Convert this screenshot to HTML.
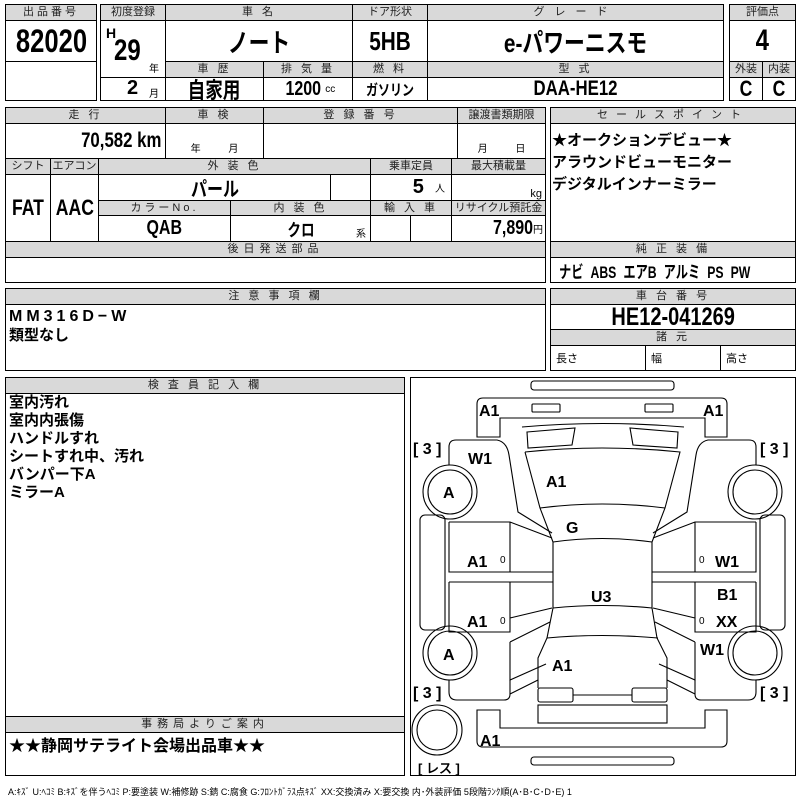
<!DOCTYPE html>
<html><head><meta charset="utf-8"><style>
*{margin:0;padding:0;box-sizing:border-box}
body{width:800px;height:800px;background:#fff;position:relative;overflow:hidden;font-family:"Liberation Sans","Noto Sans CJK JP",sans-serif;color:#000}
.c{position:absolute;border:1px solid #000;display:flex;align-items:center;justify-content:center;white-space:nowrap;overflow:hidden}
.h{background:#d9d9d9;font-size:11px;letter-spacing:3px;color:#222;line-height:1}
.v{font-weight:bold;font-size:20px}
.n{display:inline-block;transform:scaleX(.8);white-space:nowrap}
.nr{transform-origin:right center}
.nl{transform-origin:left center}
.t{position:absolute;font-weight:bold;font-size:15px;line-height:18px;white-space:nowrap}
.s{font-size:10px;font-weight:normal}
svg{position:absolute;left:0;top:0}
</style></head><body>
<!-- block 1 -->
<div class="c h" style="left:5px;top:4px;width:92px;height:17px">出品番号</div>
<div class="c v" style="left:5px;top:20px;width:92px;height:42px;font-size:32px"><span class="n">82020</span></div>
<div class="c" style="left:5px;top:61px;width:92px;height:40px"></div>
<!-- block 2 -->
<div class="c h" style="left:100px;top:4px;width:66px;height:17px;letter-spacing:0">初度登録</div>
<div class="c h" style="left:165px;top:4px;width:188px;height:17px">車 名</div>
<div class="c h" style="left:352px;top:4px;width:76px;height:17px;letter-spacing:0">ドア形状</div>
<div class="c h" style="left:427px;top:4px;width:297px;height:17px;letter-spacing:10px">グレード</div>
<div class="c" style="left:100px;top:20px;width:66px;height:58px"></div>
<div class="t" style="left:106px;top:24px;font-size:14px">H</div>
<div class="t v" style="left:114px;top:36px;font-size:30px;line-height:30px"><span class="n nl">29</span></div>
<div class="t s" style="left:149px;top:61px">年</div>
<div class="c" style="left:100px;top:77px;width:66px;height:24px"></div>
<div class="t v" style="left:127px;top:79px;font-size:20px">2</div>
<div class="t s" style="left:149px;top:86px">月</div>
<div class="c v" style="left:165px;top:20px;width:188px;height:42px;font-size:26px"><span class="n">ノート</span></div>
<div class="c v" style="left:352px;top:20px;width:76px;height:42px;font-size:26px"><span class="n">5HB</span></div>
<div class="c v" style="left:427px;top:20px;width:297px;height:42px;font-size:26px"><span class="n">e-パワーニスモ</span></div>
<div class="c h" style="left:165px;top:61px;width:99px;height:17px">車 歴</div>
<div class="c h" style="left:263px;top:61px;width:90px;height:17px">排 気 量</div>
<div class="c h" style="left:352px;top:61px;width:76px;height:17px">燃 料</div>
<div class="c h" style="left:427px;top:61px;width:297px;height:17px">型 式</div>
<div class="c v" style="left:165px;top:77px;width:99px;height:24px;font-size:22px"><span class="n">自家用</span></div>
<div class="c v" style="left:263px;top:77px;width:90px;height:24px"><span class="n">1200</span><span class="s">cc</span></div>
<div class="c v" style="left:352px;top:77px;width:76px;height:24px;font-size:15px"><span class="n">ガソリン</span></div>
<div class="c v" style="left:427px;top:77px;width:297px;height:24px;font-size:21px"><span class="n">DAA-HE12</span></div>
<!-- block 3 -->
<div class="c h" style="left:729px;top:4px;width:67px;height:17px;letter-spacing:0">評価点</div>
<div class="c v" style="left:729px;top:20px;width:67px;height:42px;font-size:30px"><span class="n">4</span></div>
<div class="c h" style="left:729px;top:61px;width:34px;height:17px;letter-spacing:0">外装</div>
<div class="c h" style="left:762px;top:61px;width:34px;height:17px;letter-spacing:0">内装</div>
<div class="c v" style="left:729px;top:77px;width:34px;height:24px;font-size:22px"><span class="n">C</span></div>
<div class="c v" style="left:762px;top:77px;width:34px;height:24px;font-size:22px"><span class="n">C</span></div>
<!-- row 2 -->
<div class="c h" style="left:5px;top:107px;width:161px;height:17px">走 行</div>
<div class="c h" style="left:165px;top:107px;width:99px;height:17px">車 検</div>
<div class="c h" style="left:263px;top:107px;width:195px;height:17px">登 録 番 号</div>
<div class="c h" style="left:457px;top:107px;width:89px;height:17px;letter-spacing:0">譲渡書類期限</div>
<div class="c v" style="left:5px;top:123px;width:161px;height:36px;justify-content:flex-end;padding-right:4px;font-size:21px"><span class="n nr">70,582 km</span></div>
<div class="c" style="left:165px;top:123px;width:99px;height:36px;align-items:flex-end;font-size:10px;padding-bottom:3px">年&nbsp;&nbsp;&nbsp;&nbsp;&nbsp;&nbsp;&nbsp;&nbsp;&nbsp;&nbsp;月</div>
<div class="c" style="left:263px;top:123px;width:195px;height:36px"></div>
<div class="c" style="left:457px;top:123px;width:89px;height:36px;align-items:flex-end;font-size:10px;padding-bottom:3px">月&nbsp;&nbsp;&nbsp;&nbsp;&nbsp;&nbsp;&nbsp;&nbsp;&nbsp;&nbsp;日</div>
<div class="c h" style="left:5px;top:158px;width:46px;height:17px;letter-spacing:0">シフト</div>
<div class="c h" style="left:50px;top:158px;width:49px;height:17px;letter-spacing:0">エアコン</div>
<div class="c h" style="left:98px;top:158px;width:273px;height:17px">外 装 色</div>
<div class="c h" style="left:370px;top:158px;width:82px;height:17px;letter-spacing:0">乗車定員</div>
<div class="c h" style="left:451px;top:158px;width:95px;height:17px;letter-spacing:0">最大積載量</div>
<div class="c v" style="left:5px;top:174px;width:46px;height:68px;font-size:22px"><span class="n">FAT</span></div>
<div class="c v" style="left:50px;top:174px;width:49px;height:68px;font-size:22px"><span class="n">AAC</span></div>
<div class="c v" style="left:98px;top:174px;width:233px;height:27px"><span class="n">パール</span></div>
<div class="c" style="left:330px;top:174px;width:41px;height:27px"></div>
<div class="c v" style="left:370px;top:174px;width:82px;height:27px;justify-content:flex-end;padding-right:6px">5&nbsp;&nbsp;<span class="s">人</span></div>
<div class="c" style="left:451px;top:174px;width:95px;height:27px;justify-content:flex-end;padding-right:3px;font-size:11px;align-items:flex-end">kg</div>
<div class="c h" style="left:98px;top:200px;width:133px;height:16px">カラーNo.</div>
<div class="c h" style="left:230px;top:200px;width:141px;height:16px">内 装 色</div>
<div class="c h" style="left:370px;top:200px;width:82px;height:16px">輸 入 車</div>
<div class="c h" style="left:451px;top:200px;width:95px;height:16px;letter-spacing:0">リサイクル預託金</div>
<div class="c v" style="left:98px;top:215px;width:133px;height:27px"><span class="n">QAB</span></div>
<div class="c v" style="left:230px;top:215px;width:141px;height:27px;font-size:17px"><span class="n">クロ</span></div>
<div class="t s" style="left:356px;top:226px">系</div>
<div class="c" style="left:370px;top:215px;width:41px;height:27px"></div>
<div class="c" style="left:410px;top:215px;width:42px;height:27px"></div>
<div class="c v" style="left:451px;top:215px;width:95px;height:27px;justify-content:flex-end;padding-right:2px"><span class="n nr">7,890</span><span class="s">円</span></div>
<div class="c h" style="left:5px;top:241px;width:541px;height:17px;letter-spacing:5px">後日発送部品</div>
<div class="c" style="left:5px;top:257px;width:541px;height:26px"></div>
<div class="c h" style="left:550px;top:107px;width:246px;height:17px;letter-spacing:8px">セールスポイント</div>
<div class="c" style="left:550px;top:123px;width:246px;height:119px"></div>
<div class="t" style="left:552px;top:130px;line-height:22px">★オークションデビュー★<br>アラウンドビューモニター<br>デジタルインナーミラー</div>
<div class="c h" style="left:550px;top:241px;width:246px;height:17px">純 正 装 備</div>
<div class="c v" style="left:550px;top:257px;width:246px;height:26px;justify-content:flex-start;padding-left:8px;font-size:17px"><span class="n nl" style="transform:scaleX(.72);word-spacing:5px">ナビ ABS エアB アルミ PS PW</span></div>
<!-- row 3 -->
<div class="c h" style="left:5px;top:288px;width:541px;height:17px">注 意 事 項 欄</div>
<div class="c" style="left:5px;top:304px;width:541px;height:67px"></div>
<div class="t" style="left:9px;top:308px;letter-spacing:4px;font-size:16px">MM316D−W</div>
<div class="t" style="left:9px;top:327px">類型なし</div>
<div class="c h" style="left:550px;top:288px;width:246px;height:17px">車 台 番 号</div>
<div class="c v" style="left:550px;top:304px;width:246px;height:26px;font-size:25px"><span class="n">HE12-041269</span></div>
<div class="c h" style="left:550px;top:329px;width:246px;height:17px">諸 元</div>
<div class="c" style="left:550px;top:345px;width:96px;height:26px;justify-content:flex-start;padding-left:5px;font-size:11px">長さ</div>
<div class="c" style="left:645px;top:345px;width:76px;height:26px;justify-content:flex-start;padding-left:5px;font-size:11px">幅</div>
<div class="c" style="left:720px;top:345px;width:76px;height:26px;justify-content:flex-start;padding-left:5px;font-size:11px">高さ</div>
<!-- bottom left -->
<div class="c h" style="left:5px;top:377px;width:400px;height:17px">検 査 員 記 入 欄</div>
<div class="c" style="left:5px;top:393px;width:400px;height:324px"></div>
<div class="t" style="left:9px;top:394px">室内汚れ<br>室内内張傷<br>ハンドルすれ<br>シートすれ中、汚れ<br>バンパー下A<br>ミラーA</div>
<div class="c h" style="left:5px;top:716px;width:400px;height:17px;letter-spacing:5px">事務局よりご案内</div>
<div class="c" style="left:5px;top:732px;width:400px;height:44px"></div>
<div class="t" style="left:9px;top:738px;font-size:16px">★★静岡サテライト会場出品車★★</div>
<div class="c" style="left:410px;top:377px;width:386px;height:399px"></div>
<div class="t" style="left:8px;top:783px;font-size:9px;font-weight:normal">A:ｷｽﾞ U:ﾍｺﾐ B:ｷｽﾞを伴うﾍｺﾐ P:要塗装 W:補修跡 S:錆 C:腐食 G:ﾌﾛﾝﾄｶﾞﾗｽ点ｷｽﾞ XX:交換済み X:要交換 内･外装評価 5段階ﾗﾝｸ順(A･B･C･D･E) 1</div>
<svg width="800" height="800" viewBox="0 0 800 800" fill="none" stroke="#000" stroke-width="1.1">
<rect x="531" y="381" width="143" height="9" rx="3"/>
<path d="M477,437 L477,404 Q477,398 483,398 L721,398 Q727,398 727,404 L727,437 L705,437 L705,418 L500,418 L500,437 Z"/>
<rect x="532" y="404" width="28" height="8" rx="1"/>
<rect x="645" y="404" width="28" height="8" rx="1"/>
<path d="M522,427 Q602,420 684,427"/>
<path d="M527,432 L575,428 L572,445 L528,448 Z"/>
<path d="M678,432 L630,428 L633,445 L677,448 Z"/>
<path d="M525,452 Q602,444 680,452 L665,508 L652,542 L652,608 L657,638 L667,658 L667,688 M525,452 L540,508 L553,542 L553,608 L547,638 L538,658 L538,688"/>
<path d="M540,508 Q602,500 665,508 M553,542 Q602,535 652,542 M553,608 Q602,603 652,608 M547,638 Q602,633 658,638"/>
<rect x="538" y="688" width="35" height="14" rx="2"/>
<rect x="632" y="688" width="35" height="14" rx="2"/>
<path d="M573,695 L632,695"/>
<rect x="538" y="705" width="129" height="18"/>
<path d="M477,710 L500,710 L500,728 L705,728 L705,710 L727,710 L727,741 Q727,747 721,747 L483,747 Q477,747 477,741 Z"/>
<rect x="531" y="757" width="143" height="8" rx="3"/>
<circle cx="450" cy="492" r="27"/><circle cx="450" cy="492" r="22"/>
<circle cx="450" cy="653" r="27"/><circle cx="450" cy="653" r="22"/>
<circle cx="755" cy="492" r="27"/><circle cx="755" cy="492" r="22"/>
<circle cx="755" cy="653" r="27"/><circle cx="755" cy="653" r="22"/>
<circle cx="437" cy="730" r="25"/><circle cx="437" cy="730" r="20"/>
<rect x="420" y="515" width="25" height="115" rx="5"/>
<rect x="760" y="515" width="25" height="115" rx="5"/>
<path d="M449,465 L449,447 Q449,440 456,440 L497,440 Q507,442 509,455 L518,512 L552,533"/>
<path d="M756,465 L756,447 Q756,440 749,440 L708,440 Q698,442 696,455 L687,512 L653,533"/>
<path d="M449,522 L510,522 L552,538 M510,522 L510,572 M449,522 L449,572 L553,572 M449,582 L553,582 M449,582 L449,632 L510,632 L510,582 M510,618 L552,608"/>
<path d="M756,522 L695,522 L653,538 M695,522 L695,572 M756,522 L756,572 L652,572 M756,582 L652,582 M756,582 L756,632 L695,632 L695,582 M695,618 L653,608"/>
<path d="M510,642 L550,622 M510,642 L510,680 L546,664"/>
<path d="M695,642 L655,622 M695,642 L695,680 L659,664"/>
<path d="M449,680 L449,692 Q449,700 457,700 L504,700 Q510,700 510,694 L510,680 M510,694 L538,680"/>
<path d="M756,680 L756,692 Q756,700 748,700 L701,700 Q695,700 695,694 L695,680 M695,694 L667,680"/>
<g fill="#000" stroke="none" font-family="Liberation Sans, sans-serif" font-weight="bold" font-size="16">
<text x="479" y="416">A1</text><text x="703" y="416">A1</text>
<text x="468" y="464">W1</text><text x="546" y="487">A1</text>
<text x="443" y="498">A</text><text x="443" y="660">A</text>
<text x="566" y="533">G</text><text x="591" y="602">U3</text>
<text x="467" y="567">A1</text><text x="467" y="627">A1</text>
<text x="715" y="567">W1</text><text x="717" y="600">B1</text><text x="716" y="627">XX</text>
<text x="700" y="655">W1</text><text x="552" y="671">A1</text>
<text x="480" y="746">A1</text>
<text x="413" y="454">[ 3 ]</text><text x="760" y="454">[ 3 ]</text>
<text x="413" y="698">[ 3 ]</text><text x="760" y="698">[ 3 ]</text>
<text x="418" y="773" font-size="13">[ レス ]</text>
<text x="500" y="563" font-size="10" font-weight="normal">0</text><text x="500" y="624" font-size="10" font-weight="normal">0</text>
<text x="699" y="563" font-size="10" font-weight="normal">0</text><text x="699" y="624" font-size="10" font-weight="normal">0</text>
</g>
</svg>
</body></html>
